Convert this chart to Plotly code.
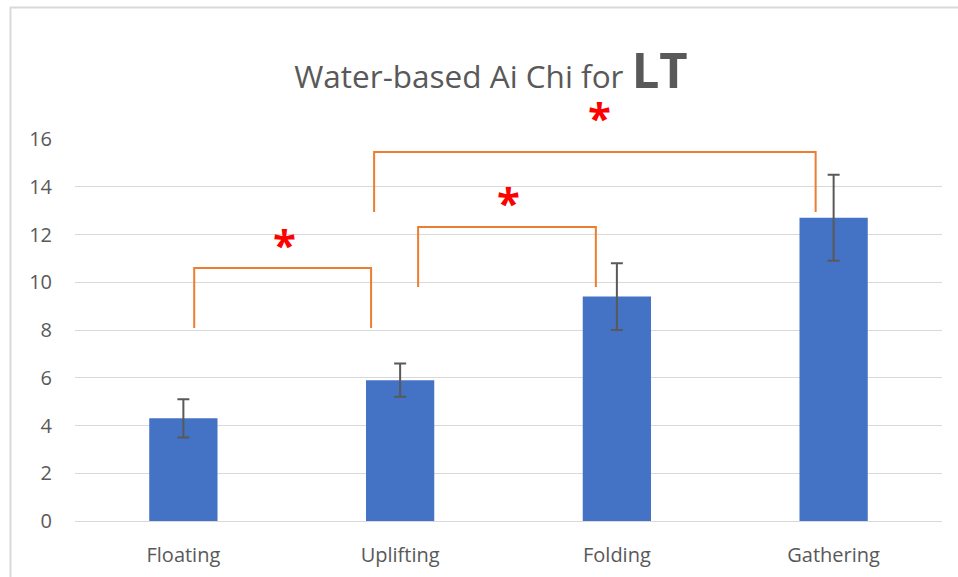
import plotly.graph_objects as go

# Mean scores and error half-widths per Ai Chi movement
categories = ["Floating", "Uplifting", "Folding", "Gathering"]
means = [4.3, 5.9, 9.4, 12.7]
errors = [0.8, 0.7, 1.4, 1.8]

# Significance brackets: left/right x (category index units), top, leg ends
bracket_left = [0.05, 1.083, 0.88]
bracket_right = [0.866, 1.903, 2.917]
bracket_top = [10.6, 12.31, 15.46]
bracket_leg_left = [8.08, 9.8, 12.94]
bracket_leg_right = [8.08, 9.8, 12.94]
star_x = [0.466, 1.498, 1.92]
star_y = [11.77, 13.53, 17.13]

y_ticks = [0, 2, 4, 6, 8, 10, 12, 14, 16]
y_max = 16

W, H = 958, 577
L, R, T, B = 75, 16, 139, 56
plot_w = W - L - R
plot_h = H - T - B

GREY_TEXT = "#595959"
FONT = "Open Sans"

fig = go.Figure()
fig.add_trace(go.Bar(
    x=categories,
    y=means,
    width=0.315,
    marker=dict(color="#4472C4", line=dict(width=0)),
    error_y=dict(type="data", array=errors, visible=True,
                 color=GREY_TEXT, thickness=2, width=6),
    showlegend=False,
    hoverinfo="skip",
))

shapes = []
for xl, xr, yt, yl, yr in zip(bracket_left, bracket_right, bracket_top,
                              bracket_leg_left, bracket_leg_right):
    shapes.append(dict(
        type="path", xref="x", yref="y",
        path=f"M {xl} {yl} L {xl} {yt} L {xr} {yt} L {xr} {yr}",
        line=dict(color="#ED7D31", width=2),
    ))

# Outer chart frame (left and top edges)
px_to_x = lambda px: (px - L) / plot_w
px_to_y = lambda py: (H - B - py) / plot_h
shapes.append(dict(
    type="path", xref="paper", yref="paper",
    path=(f"M {px_to_x(10.5)} {px_to_y(577)} L {px_to_x(10.5)} {px_to_y(7.5)} "
          f"L {px_to_x(960)} {px_to_y(7.5)}"),
    line=dict(color="#D9D9D9", width=2),
))

# Significance stars, placed in paper space so the one above the axis top is kept
annotations = []
for sx, sy in zip(star_x, star_y):
    annotations.append(dict(
        x=sx, y=sy / y_max, xref="x", yref="paper", text="<b>*</b>",
        showarrow=False, font=dict(family=FONT, size=42, color="#FF0000"),
        yanchor="middle", xanchor="center", yshift=-4,
    ))

fig.update_layout(
    width=W, height=H,
    margin=dict(l=L, r=R, t=T, b=B, autoexpand=False),
    paper_bgcolor="white",
    plot_bgcolor="white",
    title=dict(
        text="Water-based Ai Chi for <b><span style='font-size:49px'>LT</span></b>",
        font=dict(family=FONT, size=31.5, color=GREY_TEXT),
        x=491 / W, xanchor="center", xref="container",
        y=1 - 77 / H, yanchor="middle", yref="container",
    ),
    shapes=shapes,
    annotations=annotations,
    xaxis=dict(
        range=[-0.5, 3.5], automargin=False,
        showgrid=False, zeroline=False, showline=True,
        linecolor="#D9D9D9", linewidth=1,
        ticks="", ticklabelstandoff=16,
        tickfont=dict(family=FONT, size=20, color=GREY_TEXT),
        fixedrange=True,
    ),
    yaxis=dict(
        range=[0, y_max], tickvals=y_ticks, automargin=False,
        showgrid=True, gridcolor="#D9D9D9", gridwidth=1,
        zeroline=False, showline=False,
        ticks="", ticklabelstandoff=22,
        tickfont=dict(family=FONT, size=20, color=GREY_TEXT),
        fixedrange=True,
    ),
)

fig.write_html("out.html")
